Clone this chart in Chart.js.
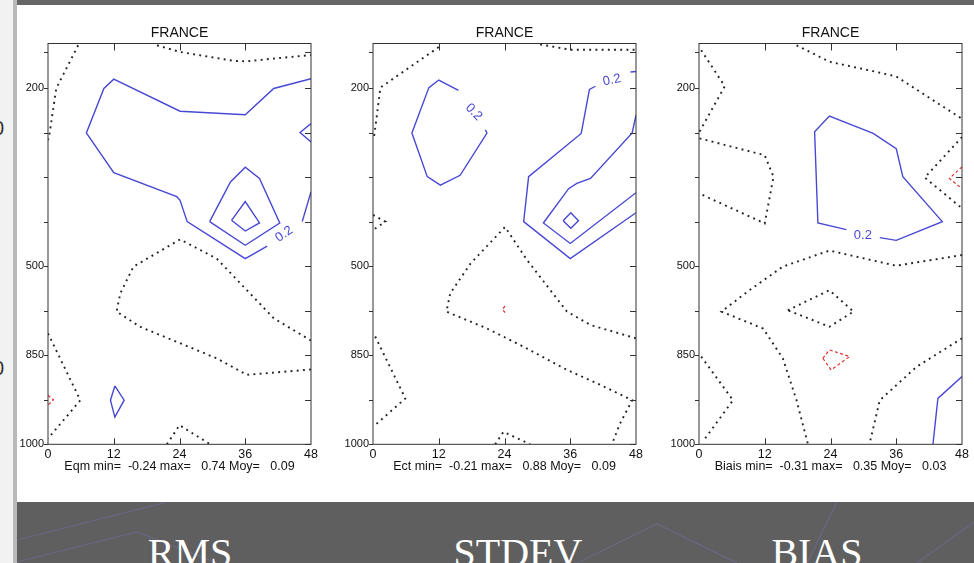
<!DOCTYPE html>
<html>
<head>
<meta charset="utf-8">
<script src="https://cdn.jsdelivr.net/npm/chart.js@4/dist/chart.umd.min.js"></script>
<style>
  html, body { margin: 0; padding: 0; }
  body { width: 974px; height: 563px; position: relative; overflow: hidden; background: #fff; }
  .band-top { position: absolute; left: 0; top: 0; width: 974px; height: 5px; background: #666; }
  .strip { position: absolute; left: 0; top: 0; width: 13px; height: 563px; background: #f2f2f2; }
  .bar { position: absolute; left: 13px; top: 0; width: 4px; height: 563px; background: #b9b9b9; }
  .band-bottom { position: absolute; left: 17px; top: 502px; width: 957px; height: 61px; background: #5f5f5f; overflow: hidden; }
  .band-bottom svg { position: absolute; left: 0; top: 0; }
  .cap { position: absolute; top: 529px; color: #fff; font-family: 'Liberation Serif', 'DejaVu Serif', serif; font-size: 40px; line-height: 48px; transform: translateX(-50%); white-space: nowrap; }
  .frag { position: absolute; left: -7px; font-family: 'Liberation Sans', sans-serif; font-size: 20px; color: #333; }
  canvas { position: absolute; top: 5px; }
</style>
</head>
<body>
<div class="band-top"></div>
<div class="strip"></div>
<div class="frag" style="top:117px">0</div>
<div class="frag" style="top:357px">0</div>
<div class="bar"></div>
<div class="band-bottom">
  <svg width="957" height="61">
    <g stroke="rgba(120,120,200,0.35)" stroke-width="1.2" fill="none">
      <path d="M0 38 L150 0"/>
      <path d="M0 60 L120 30 L200 61"/>
      <path d="M560 61 L640 22 L720 61"/>
      <path d="M790 61 L820 0"/>
      <path d="M900 61 L957 20"/>
    </g>
  </svg>
</div>
<div class="cap" style="left:190px">RMS</div>
<div class="cap" style="left:518px">STDEV</div>
<div class="cap" style="left:817px">BIAS</div>

<canvas id="c0" width="343" height="497"></canvas>
<canvas id="c1" width="343" height="497"></canvas>
<canvas id="c2" width="343" height="497"></canvas>

<script>
// axes: forecast hour on x, pressure level index on y (0 = 1000 hPa at bottom)
const hourTicks = [0, 12, 24, 36, 48];
const levelTicks = [0, 1, 2, 3, 4, 5, 6, 7, 8, 8.8];
const levelLabels = ['1000', '', '850', '', '500', '', '', '', '200', ''];
const panelTitle = 'FRANCE';

// RMS contours: [hour, level] vertices
const rmsZero = [
  [[5.5, 8.96], [1.5, 7.99], [0.3, 6.99], [0, 6.83]],
  [[19.9, 8.96], [24.1, 8.81], [33.9, 8.61], [36.3, 8.6], [41, 8.66], [48, 8.74]],
  [[48, 2.33], [41.2, 2.83], [36.3, 3.46], [30.8, 4.17], [24.1, 4.6], [15.6, 3.99], [13.2, 3.39], [12.5, 2.98], [16.8, 2.64], [24.1, 2.27], [30.8, 1.93], [36.3, 1.56], [41.2, 1.61], [48, 1.68]],
  [[0, 2.49], [5.9, 0.99], [0, 0.13]],
  [[21.7, 0], [24, 0.43], [29.6, 0]]
];
const rmsPos = [
  [[48, 8.21], [41.2, 7.99], [36, 7.4], [24.1, 7.48], [12, 8.2], [10.2, 7.99], [7, 6.99], [12, 6.1], [23.5, 5.56], [24.1, 5.48], [25.4, 5], [36, 4.17], [40, 4.45]],
  [[46.4, 5], [48, 5.67]],
  [[29.5, 5], [33.3, 5.89], [36, 6.22], [38.6, 5.97], [42.3, 4.97], [36, 4.47], [29.5, 5]],
  [[33.5, 5.03], [36, 5.45], [38.6, 4.97], [36, 4.79], [33.5, 5.03]],
  [[48, 7.2], [46, 7], [48, 6.79]],
  [[12.2, 1.31], [13.9, 0.99], [12.2, 0.61], [11.4, 0.99], [12.2, 1.31]]
];
const rmsNeg = [
  [[0, 1.1], [1, 1], [0, 0.88]]
];
const rmsLabels = [[43.1, 4.72, -35]];

// STDEV contours
const stdevZero = [
  [[12, 8.92], [1.34, 8.01], [0.6, 7.28], [0.1, 6.83]],
  [[30.5, 8.98], [36, 8.86], [48, 8.86]],
  [[0, 5.15], [2.25, 5], [0, 4.81]],
  [[48, 2.38], [39.7, 2.68], [35.4, 2.98], [28.1, 4.14], [24.1, 4.88], [17.8, 4.06], [14.1, 3.39], [13.4, 2.98], [20.8, 2.6], [27.5, 2.19], [35.4, 1.67], [40.9, 1.37], [47.3, 0.99], [45.1, 0.47], [43.6, 0]],
  [[0.4, 2.42], [5.9, 1.03], [0.1, 0.4]],
  [[22.3, 0], [23.8, 0.28], [28.7, 0]]
];
const stdevPos = [
  [[15.6, 7.95], [12, 8.18], [10.2, 8.01], [7.1, 6.99], [9.9, 6.01], [12.3, 5.82], [15.9, 6.04], [20.8, 6.99], [20.5, 7.06]],
  [[48, 8.37], [47, 8.36]],
  [[40.6, 8.04], [39.5, 7.97], [38, 6.98], [28.4, 6.01], [27.5, 5], [36, 4.17], [48, 5.2]],
  [[48, 7.39], [47.3, 6.99], [39.7, 5.97], [37.2, 5.86], [35.7, 5.74], [31.1, 4.97], [36, 4.51], [48, 5.65]],
  [[34.7, 5.02], [36.1, 5.2], [37.5, 5.02], [36.1, 4.85], [34.7, 5.02]]
];
const stdevNeg = [
  [[24.1, 3.1], [23.6, 3.03], [24.1, 2.96]]
];
const stdevLabels = [[18.4, 7.46, 45], [43.6, 8.18, -12]];

// BIAS contours
const biasZero = [
  [[0.4, 8.85], [4.7, 8.04], [0.1, 7.02]],
  [[17.8, 8.96], [23.8, 8.59], [31.7, 8.38], [36, 8.26], [40.9, 7.87], [48, 7.31]],
  [[0.1, 6.87], [12, 6.49], [13.6, 6.01], [12, 4.96], [0.1, 5.63]],
  [[48, 6.9], [41.2, 5.99], [48, 5.3]],
  [[48, 4.25], [36, 4.01], [23.8, 4.35], [15.3, 3.99], [9.2, 3.46], [4.1, 2.98], [11.7, 2.6], [15.3, 1.93], [17.8, 0.99], [19.9, 0]],
  [[16.2, 3.01], [23.8, 3.46], [28.2, 2.98], [23.8, 2.64], [16.2, 3.01]],
  [[48, 2.38], [39.7, 1.74], [33, 0.99], [31.1, 0]],
  [[0.4, 1.97], [6.2, 0.99], [0.7, 0.06]]
];
const biasPos = [
  [[26.9, 4.82], [21.7, 4.97], [21.1, 7.02], [23.8, 7.37], [31.8, 6.98], [36, 6.64], [37.2, 6.01], [44.4, 5], [36, 4.58], [33, 4.64]],
  [[48, 1.52], [43.6, 1.03], [42.7, 0]]
];
const biasNeg = [
  [[48, 6.23], [45.7, 5.97], [48, 5.74]],
  [[22.6, 1.93], [23.8, 2.12], [27.5, 1.97], [24.1, 1.67], [22.6, 1.93]]
];
const biasLabels = [[29.9, 4.7, 0]];

const statLines = [
  'Eqm min=  -0.24 max=   0.74 Moy=   0.09',
  'Ect min=  -0.21 max=   0.88 Moy=   0.09',
  'Biais min=  -0.31 max=   0.35 Moy=   0.03'
];

const FONT = "'Liberation Sans Narrow', 'Liberation Sans', Arial, sans-serif";
const BLUE = 'rgb(72, 72, 212)';
const plotLefts = [47.7, 372.7, 699.3];

function toPoints(line) {
  return line.map(p => ({ x: p[0], y: p[1] }));
}

function contourSets(lines, style) {
  return lines.map(line => Object.assign({
    data: toPoints(line),
    showLine: true,
    pointRadius: 0,
    tension: 0,
    fill: false
  }, style));
}

// frame, inward ticks and contour value labels
const framePlugin = {
  id: 'frameTicks',
  afterDatasetsDraw(chart, args, opts) {
    const { ctx, chartArea: a, scales: { x, y } } = chart;
    ctx.save();
    ctx.strokeStyle = '#333';
    ctx.lineWidth = 1;
    ctx.strokeRect(a.left, a.top, a.right - a.left, a.bottom - a.top);
    ctx.beginPath();
    levelTicks.forEach(v => {
      const py = Math.round(y.getPixelForValue(v)) + 0.5;
      ctx.moveTo(a.left - 4, py); ctx.lineTo(a.left, py);
      ctx.moveTo(a.right - 6, py); ctx.lineTo(a.right, py);
    });
    hourTicks.slice(1, -1).forEach(v => {
      const px = Math.round(x.getPixelForValue(v)) + 0.5;
      ctx.moveTo(px, a.top); ctx.lineTo(px, a.top + 7);
      ctx.moveTo(px, a.bottom); ctx.lineTo(px, a.bottom - 6);
    });
    ctx.stroke();
    ctx.fillStyle = BLUE;
    ctx.font = '13px ' + FONT;
    ctx.textAlign = 'center';
    ctx.textBaseline = 'middle';
    (opts.labels || []).forEach(l => {
      ctx.save();
      ctx.translate(x.getPixelForValue(l[0]), y.getPixelForValue(l[1]));
      ctx.rotate(l[2] * Math.PI / 180);
      ctx.fillText('0.2', 0, 0);
      ctx.restore();
    });
    ctx.restore();
  }
};

function buildPanel(i, zero, pos, neg, labels) {
  const canvas = document.getElementById('c' + i);
  canvas.style.left = (plotLefts[i] - 40) + 'px';
  const datasets = [].concat(
    contourSets(zero, { borderColor: '#222', borderWidth: 1.9, borderDash: [1.9, 4.3] }),
    contourSets(pos, { borderColor: BLUE, borderWidth: 1.4 }),
    contourSets(neg, { borderColor: '#e03030', borderWidth: 1.2, borderDash: [3, 2.5] })
  );
  return new Chart(canvas.getContext('2d'), {
    type: 'scatter',
    data: { datasets },
    options: {
      responsive: false,
      animation: false,
      layout: { padding: 0 },
      plugins: {
        legend: { display: false },
        tooltip: { enabled: false },
        title: {
          display: true, text: panelTitle, color: '#111',
          font: { family: FONT, size: 14, weight: 'normal' },
          padding: { top: 19.6, bottom: 2.1 }
        },
        subtitle: {
          display: true, position: 'bottom', text: statLines[i], color: '#111',
          font: { family: FONT, size: 12.5, weight: 'normal' },
          padding: { top: 1.2, bottom: 27.5 }
        },
        frameTicks: { labels }
      },
      scales: {
        x: {
          type: 'linear', min: 0, max: 48,
          grid: { display: false, drawTicks: false },
          border: { display: false },
          afterBuildTicks: s => { s.ticks = hourTicks.map(v => ({ value: v })); },
          afterFit: s => { s.height = 14; },
          ticks: { color: '#111', padding: 3, maxRotation: 0, font: { family: FONT, size: 12.5 } }
        },
        y: {
          type: 'linear', min: 0, max: 9,
          grid: { display: false, drawTicks: false },
          border: { display: false },
          afterBuildTicks: s => { s.ticks = levelTicks.map(v => ({ value: v })); },
          afterFit: s => { s.width = 40; },
          ticks: {
            color: '#111', padding: 4, autoSkip: false,
            font: { family: FONT, size: 11 },
            callback: (v, idx) => levelLabels[idx]
          }
        },
        // empty right-hand box so that title and stats centre over the plot
        yRight: {
          type: 'linear', position: 'right', min: 0, max: 9,
          grid: { display: false, drawTicks: false },
          border: { display: false },
          ticks: { display: false },
          afterFit: s => { s.width = 40; }
        }
      }
    },
    plugins: [framePlugin]
  });
}

buildPanel(0, rmsZero, rmsPos, rmsNeg, rmsLabels);
buildPanel(1, stdevZero, stdevPos, stdevNeg, stdevLabels);
buildPanel(2, biasZero, biasPos, biasNeg, biasLabels);
</script>
</body>
</html>
